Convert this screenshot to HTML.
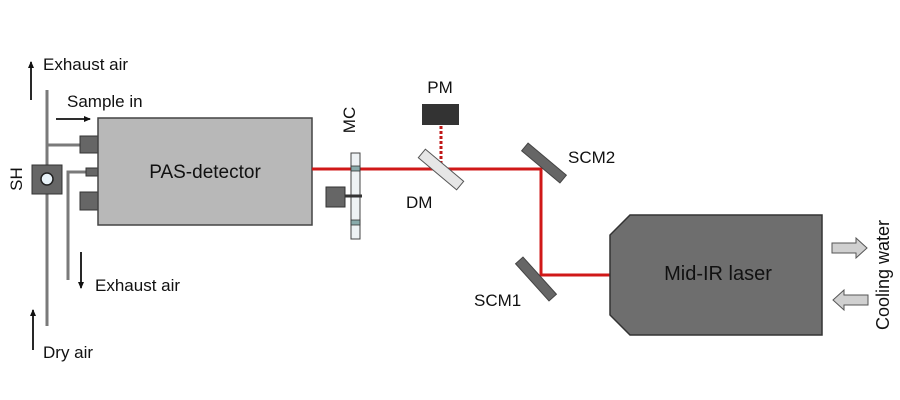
<!DOCTYPE html>
<html><head><style>body{margin:0;background:#fff}svg{display:block}text{font-family:"Liberation Sans",sans-serif;fill:#111}</style></head><body>
<svg width="900" height="400" viewBox="0 0 900 400">
<defs><marker id="a" markerWidth="8" markerHeight="8" refX="6" refY="4" orient="auto" markerUnits="userSpaceOnUse"><path d="M0,1 L7,4 L0,7 Z" fill="#111"/></marker></defs>
<!-- pipes -->
<g stroke="#7a7a7a" stroke-width="3" fill="none">
<line x1="47" y1="90" x2="47" y2="326"/>
<line x1="47" y1="145" x2="81" y2="145"/>
<polyline points="68,280 68,172 87,172"/>
</g>
<rect x="32" y="165" width="30" height="29" fill="#666" stroke="#333"/>
<circle cx="47" cy="179" r="6" fill="#e8f2f8" stroke="#222" stroke-width="1.5"/>
<rect x="80" y="136" width="18" height="17" fill="#666" stroke="#333"/>
<rect x="86" y="168" width="12" height="8" fill="#666" stroke="#333"/>
<rect x="80" y="192" width="18" height="18" fill="#666" stroke="#333"/>
<rect x="98" y="118" width="214" height="107" fill="#b8b8b8" stroke="#444" stroke-width="1.5"/>
<text x="205" y="178" font-size="19" text-anchor="middle">PAS-detector</text>
<!-- arrows -->
<g stroke="#111" stroke-width="1.8">
<line x1="31" y1="100" x2="31" y2="62" marker-end="url(#a)"/>
<line x1="56" y1="119" x2="90" y2="119" marker-end="url(#a)"/>
<line x1="81" y1="252" x2="81" y2="288" marker-end="url(#a)"/>
<line x1="33" y1="350" x2="33" y2="310" marker-end="url(#a)"/>
</g>
<text x="43" y="70" font-size="17">Exhaust air</text>
<text x="67" y="107" font-size="17">Sample in</text>
<text x="95" y="291" font-size="17">Exhaust air</text>
<text x="43" y="358" font-size="17">Dry air</text>
<text transform="translate(22,179) rotate(-90)" font-size="17" text-anchor="middle">SH</text>
<!-- beam -->
<polyline points="312,169 541,169 541,275 612,275" fill="none" stroke="#d01818" stroke-width="3"/>
<line x1="441" y1="126" x2="441" y2="164" stroke="#c01818" stroke-width="3" stroke-dasharray="3,2"/>
<!-- MC -->
<rect x="351" y="153" width="9" height="86" fill="#eef2f4" stroke="#444"/>
<rect x="351" y="166" width="9" height="5" fill="#8aa" stroke="#333" stroke-width=".8"/>
<rect x="351" y="220" width="9" height="5" fill="#8aa" stroke="#333" stroke-width=".8"/>
<line x1="345" y1="196" x2="362" y2="196" stroke="#333" stroke-width="3"/>
<rect x="326" y="187" width="19" height="20" fill="#666" stroke="#333"/>
<text transform="translate(355,120) rotate(-90)" font-size="17" text-anchor="middle">MC</text>
<!-- PM DM -->
<rect x="422" y="104" width="37" height="21" fill="#333"/>
<text x="440" y="93" font-size="17" text-anchor="middle">PM</text>
<rect x="416" y="164" width="50" height="11" fill="#e6e6e6" stroke="#555" transform="rotate(40 441 169.5)"/>
<text x="406" y="208" font-size="17">DM</text>
<!-- SCM -->
<rect x="519" y="158" width="50" height="10" fill="#666" stroke="#444" transform="rotate(40 544 163)"/>
<text x="568" y="163" font-size="17">SCM2</text>
<rect x="511" y="274" width="50" height="10" fill="#666" stroke="#444" transform="rotate(48 536 279)"/>
<text x="474" y="306" font-size="17">SCM1</text>
<!-- laser -->
<path d="M630,215 L822,215 L822,335 L630,335 L610,315 L610,235 Z" fill="#6e6e6e" stroke="#333" stroke-width="1.5"/>
<text x="718" y="280" font-size="20" text-anchor="middle">Mid-IR laser</text>
<path d="M832,243 L856,243 L856,238 L867,248 L856,258 L856,253 L832,253 Z" fill="#d0d0d0" stroke="#555"/>
<path d="M868,295 L844,295 L844,290 L833,300 L844,310 L844,305 L868,305 Z" fill="#d0d0d0" stroke="#555"/>
<text transform="translate(889,275) rotate(-90)" font-size="18" text-anchor="middle">Cooling water</text>
</svg>
</body></html>
